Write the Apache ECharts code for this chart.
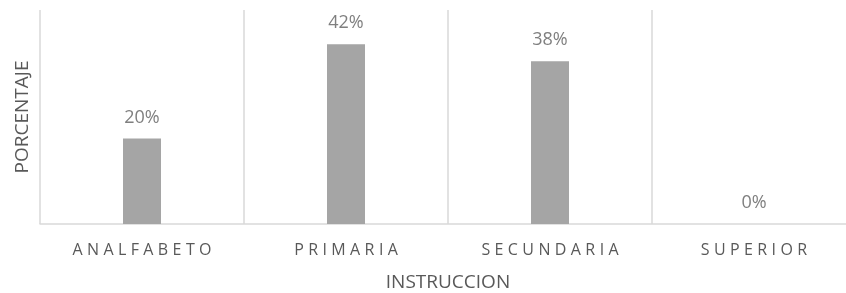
<!DOCTYPE html>
<html>
<head>
<meta charset="utf-8">
<script src="https://cdn.jsdelivr.net/npm/echarts@6/dist/echarts.min.js"></script>
<style>
  html, body { margin: 0; padding: 0; background: #fff; }
  #chart { width: 846px; height: 293px; }
</style>
</head>
<body>
<div id="chart"></div>
<script>
// datos del gráfico
const categories = ["ANALFABETO", "PRIMARIA", "SECUNDARIA", "SUPERIOR"];
const porcentajes = [20, 42, 38, 0];
const yMax = 50;

const myChart = echarts.init(document.getElementById("chart"));

// separar letras con padding (espaciado como en el original)
function spaced(txt) {
  return txt.split("").map((c) => "{s|" + c + "}").join("");
}

const option = {
  animation: false,
  backgroundColor: "#fff",
  textStyle: { fontFamily: "Open Sans" },
  grid: {
    left: 40,
    top: 10,
    bottom: 69,
    right: -10,
    containLabel: false,
    outerBoundsMode: "none",
  },
  xAxis: {
    type: "category",
    data: categories,
    name: "INSTRUCCION",
    nameLocation: "middle",
    nameGap: 49,
    nameTextStyle: { color: "#595959", fontSize: 19, fontFamily: "Open Sans" },
    axisLine: { show: true, lineStyle: { color: "#d9d9d9", width: 1.5 } },
    axisTick: { show: false },
    splitLine: { show: true, interval: 0, lineStyle: { color: "#d9d9d9", width: 1.5 } },
    axisLabel: {
      interval: 0,
      margin: 18,
      color: "#595959",
      formatter: (v) => spaced(v),
      rich: {
        s: { fontSize: 16, color: "#595959", fontFamily: "Open Sans", padding: [0, 2.2, 0, 2.2] },
      },
    },
  },
  yAxis: {
    type: "value",
    min: 0,
    max: yMax,
    name: "PORCENTAJE",
    nameLocation: "middle",
    nameGap: 8,
    nameTextStyle: { color: "#595959", fontSize: 19, fontFamily: "Open Sans" },
    axisLine: { show: false },
    axisTick: { show: false },
    axisLabel: { show: false },
    splitLine: { show: false },
  },
  series: [
    {
      type: "bar",
      data: porcentajes,
      barWidth: 38,
      itemStyle: { color: "#a5a5a5" },
      label: {
        show: true,
        position: "top",
        distance: 12,
        color: "#7f7f7f",
        fontSize: 18,
        fontFamily: "Open Sans",
        formatter: (p) => p.value + "%",
      },
    },
  ],
};

myChart.setOption(option);
window.addEventListener("resize", () => {
  myChart.resize();
});
</script>
</body>
</html>
